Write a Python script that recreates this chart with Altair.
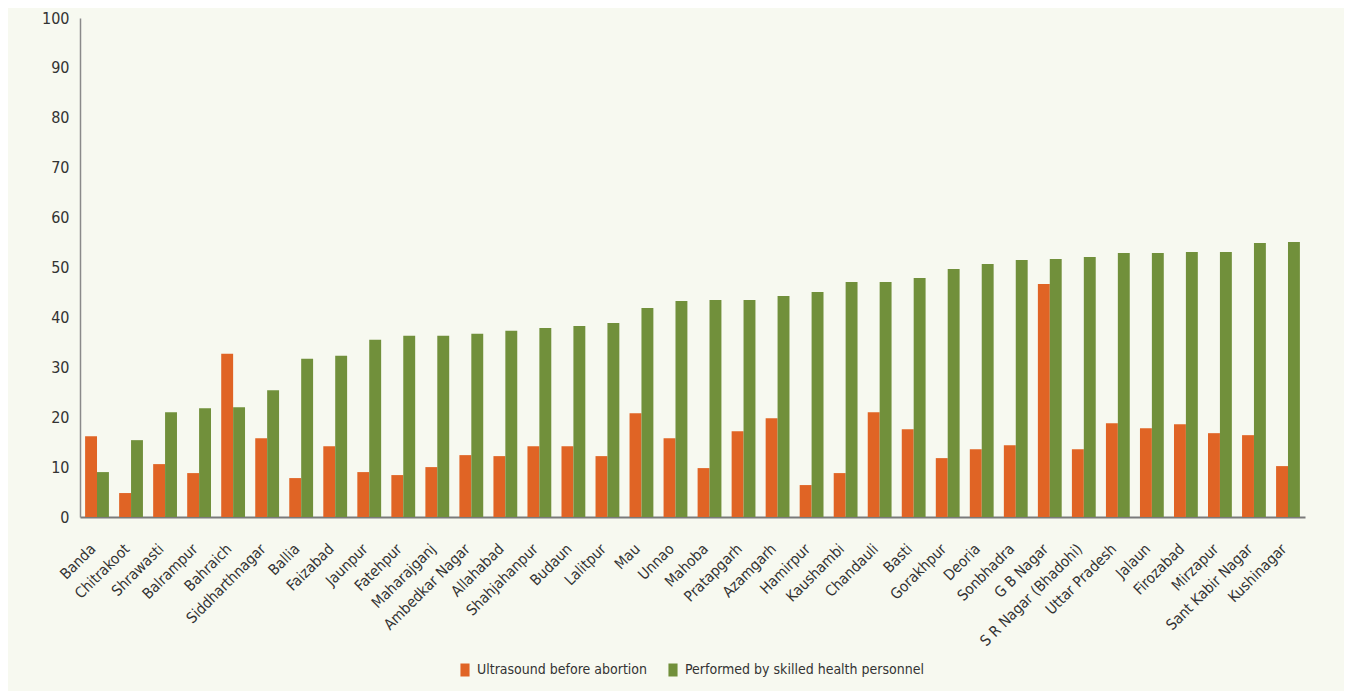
import altair as alt
import pandas as pd

districts = ["Banda", "Chitrakoot", "Shrawasti", "Balrampur", "Bahraich", "Siddharthnagar",
             "Ballia", "Faizabad", "Jaunpur", "Fatehpur", "Maharajganj", "Ambedkar Nagar",
             "Allahabad", "Shahjahanpur", "Budaun", "Lalitpur", "Mau", "Unnao", "Mahoba",
             "Pratapgarh", "Azamgarh", "Hamirpur", "Kaushambi", "Chandauli", "Basti",
             "Gorakhpur", "Deoria", "Sonbhadra", "G B Nagar", "S R Nagar (Bhadohi)",
             "Uttar Pradesh", "Jalaun", "Firozabad", "Mirzapur", "Sant Kabir Nagar", "Kushinagar"]

ultrasound = [16.2, 4.8, 10.6, 8.8, 32.7, 15.8, 7.8, 14.2, 9.0, 8.4, 10.0, 12.4,
              12.2, 14.2, 14.2, 12.2, 20.8, 15.8, 9.8, 17.2, 19.8, 6.4, 8.8, 21.0,
              17.6, 11.8, 13.6, 14.4, 46.7, 13.6, 18.8, 17.8, 18.6, 16.8, 16.4, 10.2]

skilled = [9.0, 15.4, 21.0, 21.8, 22.0, 25.4, 31.7, 32.3, 35.5, 36.3, 36.3, 36.7,
           37.3, 37.9, 38.3, 38.9, 41.9, 43.3, 43.5, 43.5, 44.3, 45.1, 47.1, 47.1,
           47.9, 49.7, 50.7, 51.5, 51.7, 52.1, 52.9, 52.9, 53.1, 53.1, 54.9, 55.1]

series_names = ["Ultrasound before abortion", "Performed by skilled health personnel"]
series_colors = ["#E06425", "#71903B"]

rows = []
for d, u, s in zip(districts, ultrasound, skilled):
    rows.append({"district": d, "series": series_names[0], "value": u})
    rows.append({"district": d, "series": series_names[1], "value": s})
df = pd.DataFrame(rows)

FONT = "Liberation Sans Narrow, DejaVu Sans Condensed, Liberation Sans"

chart = alt.Chart(df).mark_bar().encode(
    x=alt.X("district:N", sort=districts, title=None,
            scale=alt.Scale(paddingInner=0.3, paddingOuter=0.15),
            axis=alt.Axis(labelAngle=-45, labelAlign="right", labelBaseline="top",
                          labelPadding=24, labelOffset=-9, ticks=False,
                          domainColor="#7a7a7a", domainWidth=2, labelFontSize=15,
                          labelColor="#333333", labelFont=FONT)),
    xOffset=alt.XOffset("series:N", sort=series_names,
                        scale=alt.Scale(paddingInner=0, paddingOuter=0)),
    y=alt.Y("value:Q", title=None,
            scale=alt.Scale(domain=[0, 100], nice=False),
            axis=alt.Axis(values=list(range(0, 101, 10)), grid=False, ticks=False,
                          labelPadding=11, domainColor="#8a8a8a", domainWidth=1.5,
                          labelFontSize=16, labelColor="#333333", labelFont=FONT)),
    color=alt.Color("series:N", sort=series_names,
                    scale=alt.Scale(domain=series_names, range=series_colors),
                    legend=alt.Legend(title=None, orient="none", direction="horizontal",
                                      legendX=378, legendY=645,
                                      symbolType="M-0.7,-1H0.7V1H-0.7Z",
                                      symbolSize=169, symbolStrokeWidth=0,
                                      labelFontSize=14, labelFont=FONT, labelLimit=0,
                                      labelColor="#333333", columnPadding=18,
                                      labelOffset=5, padding=0)),
).properties(
    width=1225, height=499,
    padding={"left": 72, "top": 10, "right": 39, "bottom": 174},
    autosize=alt.AutoSizeParams(type="none"),
    background="#F7F9F0",
).configure_view(stroke=None)

chart.save("out.html", embed_options={"renderer": "svg", "actions": False})
